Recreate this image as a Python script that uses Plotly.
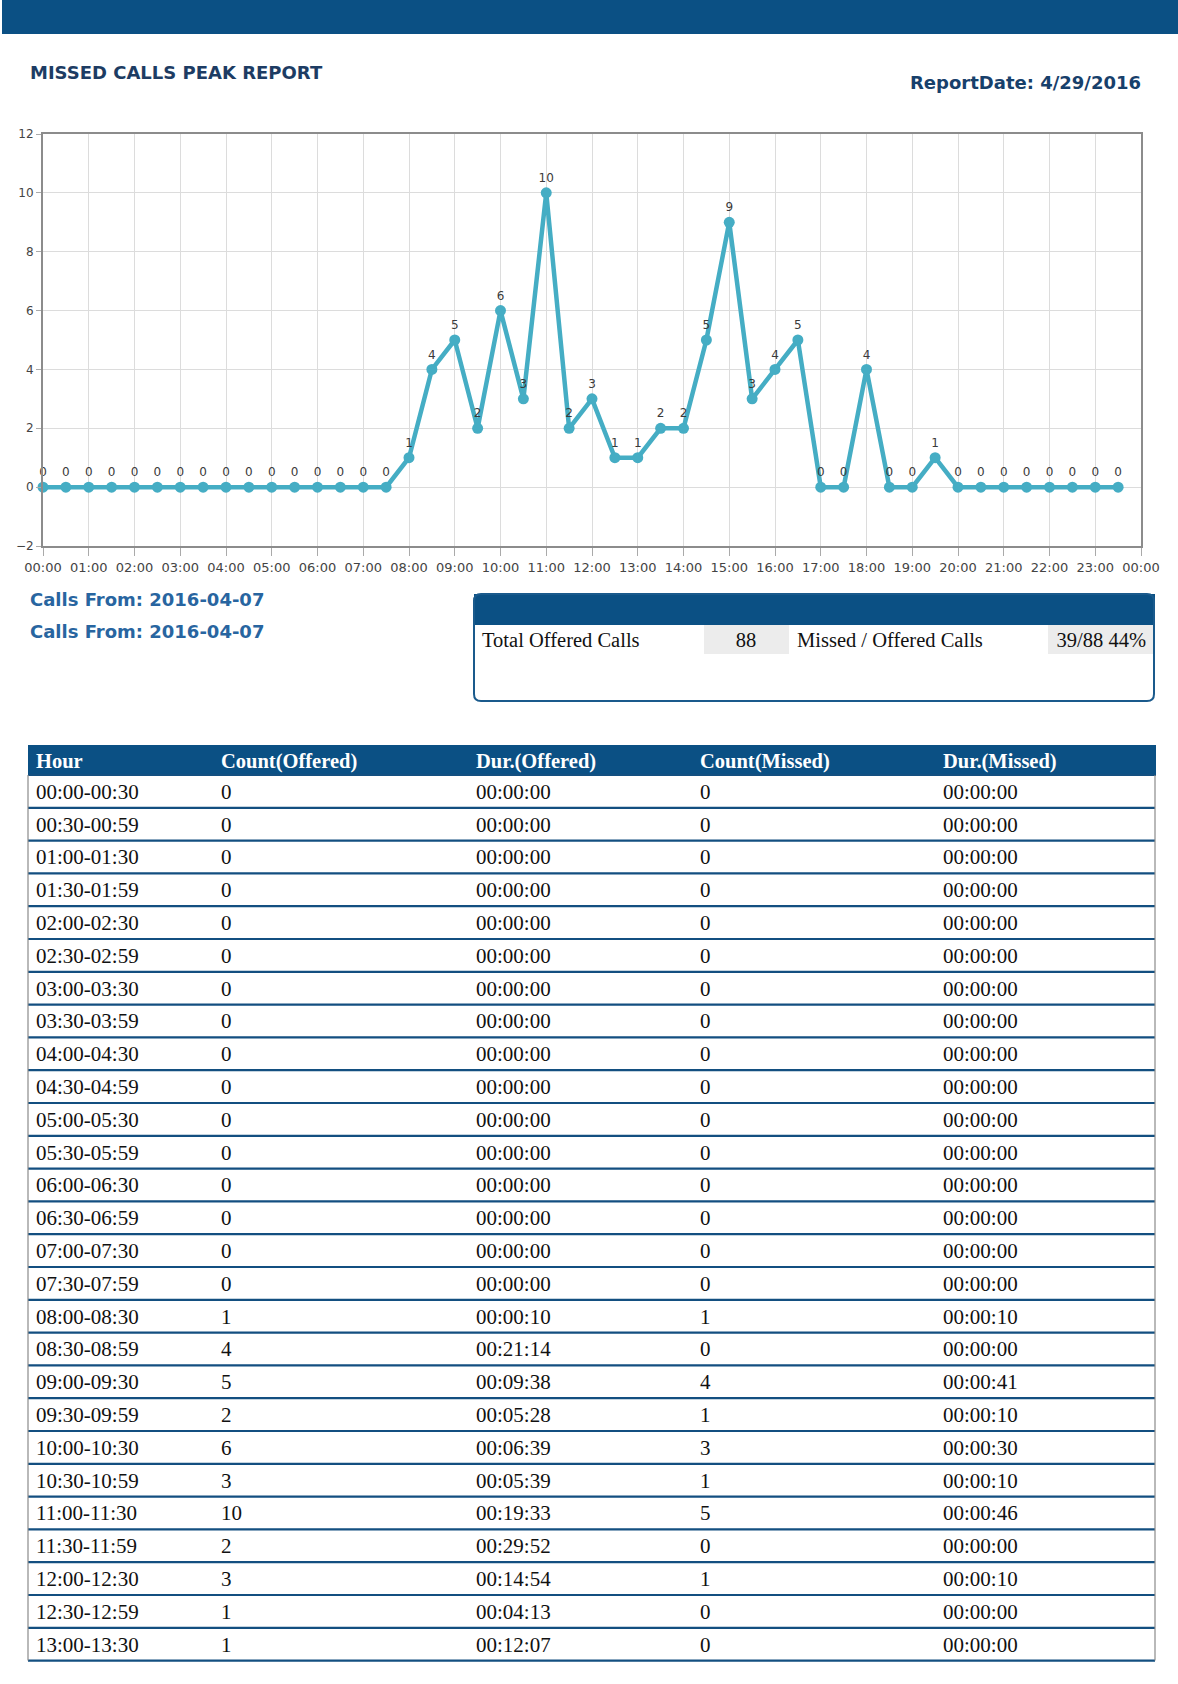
import plotly.graph_objects as go

W, H = 1178, 1684

# ---------------- data ----------------
report_title = "MISSED CALLS PEAK REPORT"
report_date = "4/29/2016"
calls_from = ["2016-04-07", "2016-04-07"]

slot_labels = ["00:00", "00:30", "01:00", "01:30", "02:00", "02:30", "03:00", "03:30",
               "04:00", "04:30", "05:00", "05:30", "06:00", "06:30", "07:00", "07:30",
               "08:00", "08:30", "09:00", "09:30", "10:00", "10:30", "11:00", "11:30",
               "12:00", "12:30", "13:00", "13:30", "14:00", "14:30", "15:00", "15:30",
               "16:00", "16:30", "17:00", "17:30", "18:00", "18:30", "19:00", "19:30",
               "20:00", "20:30", "21:00", "21:30", "22:00", "22:30", "23:00", "23:30"]
slot_counts = [0, 0, 0, 0, 0, 0, 0, 0,
               0, 0, 0, 0, 0, 0, 0, 0,
               1, 4, 5, 2, 6, 3, 10, 2,
               3, 1, 1, 2, 2, 5, 9, 3,
               4, 5, 0, 0, 4, 0, 0, 1,
               0, 0, 0, 0, 0, 0, 0, 0]

summary_labels = ["Total Offered Calls", "Missed / Offered Calls"]
summary_values = ["88", "39/88 44%"]

table_header = ["Hour", "Count(Offered)", "Dur.(Offered)", "Count(Missed)", "Dur.(Missed)"]
hour_ranges = ["00:00-00:30", "00:30-00:59", "01:00-01:30", "01:30-01:59", "02:00-02:30",
               "02:30-02:59", "03:00-03:30", "03:30-03:59", "04:00-04:30", "04:30-04:59",
               "05:00-05:30", "05:30-05:59", "06:00-06:30", "06:30-06:59", "07:00-07:30",
               "07:30-07:59", "08:00-08:30", "08:30-08:59", "09:00-09:30", "09:30-09:59",
               "10:00-10:30", "10:30-10:59", "11:00-11:30", "11:30-11:59", "12:00-12:30",
               "12:30-12:59", "13:00-13:30"]
count_offered = [0, 0, 0, 0, 0, 0, 0, 0, 0, 0, 0, 0, 0, 0, 0, 0,
                 1, 4, 5, 2, 6, 3, 10, 2, 3, 1, 1]
dur_offered = ["00:00:00", "00:00:00", "00:00:00", "00:00:00", "00:00:00", "00:00:00",
               "00:00:00", "00:00:00", "00:00:00", "00:00:00", "00:00:00", "00:00:00",
               "00:00:00", "00:00:00", "00:00:00", "00:00:00",
               "00:00:10", "00:21:14", "00:09:38", "00:05:28", "00:06:39", "00:05:39",
               "00:19:33", "00:29:52", "00:14:54", "00:04:13", "00:12:07"]
count_missed = [0, 0, 0, 0, 0, 0, 0, 0, 0, 0, 0, 0, 0, 0, 0, 0,
                1, 0, 4, 1, 3, 1, 5, 0, 1, 0, 0]
dur_missed = ["00:00:00", "00:00:00", "00:00:00", "00:00:00", "00:00:00", "00:00:00",
              "00:00:00", "00:00:00", "00:00:00", "00:00:00", "00:00:00", "00:00:00",
              "00:00:00", "00:00:00", "00:00:00", "00:00:00",
              "00:00:10", "00:00:00", "00:00:41", "00:00:10", "00:00:30", "00:00:10",
              "00:00:46", "00:00:00", "00:00:10", "00:00:00", "00:00:00"]

# ---------------- helpers ----------------
def px(v):
    return v / W

def py(v):
    return 1 - v / H

def nb(s):
    # non-breaking spaces so the table cell keeps its declared height
    return s.replace(" ", "\u00a0")

NAVY = "#0b5084"
LINE = "#45adc4"

day = calls_from[0]
next_day = "2016-04-08"
x_times = [f"{day} {s}" for s in slot_labels]

fig = go.Figure()

# ---------------- chart ----------------
fig.add_trace(go.Scatter(
    x=x_times, y=slot_counts, mode="lines+markers+text",
    text=[str(v) for v in slot_counts], textposition="top center",
    textfont=dict(size=12, color="#3a3a3a", family="DejaVu Sans"),
    line=dict(color=LINE, width=4.5), marker=dict(size=11, color=LINE),
    cliponaxis=False, showlegend=False, hoverinfo="x+y",
))

fig.update_xaxes(
    domain=[px(43), px(1141)], type="date",
    range=[f"{day} 00:00", f"{next_day} 00:00"],
    tick0=f"{day} 00:00", dtick=3600000, tickformat="%H:%M",
    showgrid=True, gridcolor="#dcdcdc", gridwidth=1,
    ticks="outside", ticklen=8, tickcolor="#aaaaaa",
    showline=True, mirror=True, linecolor="#8c8c8c", linewidth=2,
    tickfont=dict(size=13, color="#444444", family="DejaVu Sans"),
    anchor="y", zeroline=False, automargin=False,
)
fig.update_yaxes(
    domain=[py(546), py(134)], range=[-2, 12], dtick=2,
    showgrid=True, gridcolor="#dcdcdc", gridwidth=1,
    ticks="outside", ticklen=5, tickcolor="#aaaaaa",
    showline=True, mirror=True, linecolor="#8c8c8c", linewidth=2,
    tickfont=dict(size=12, color="#444444", family="DejaVu Sans"),
    zeroline=False, anchor="x", automargin=False,
)

# ---------------- summary table ----------------
fig.add_trace(go.Table(
    domain=dict(x=[px(474), px(1154)], y=[py(701), py(594)]),
    columnwidth=[229, 86, 258, 107],
    header=dict(values=["", "", "", ""], fill_color=NAVY, height=30,
                line=dict(color=NAVY, width=1)),
    cells=dict(values=[[nb(summary_labels[0])], [summary_values[0]],
                       [nb(summary_labels[1])], [nb(summary_values[1])]],
               fill_color=["white", "#ececec", "white", "#ececec"],
               align=["left", "center", "left", "right"],
               font=dict(size=20.5, color="#111111", family="Liberation Serif"),
               height=30, line=dict(color="white", width=1)),
))

# ---------------- main table ----------------
row_h = 32.8
head_h = 30
tbl_top, tbl_left, tbl_right = 745, 28, 1155
fig.add_trace(go.Table(
    domain=dict(x=[px(tbl_left), px(tbl_right)], y=[py(1668), py(tbl_top)]),
    columnwidth=[185, 255, 224, 243, 220],
    header=dict(values=table_header, fill_color=NAVY,
                align="left", height=head_h,
                font=dict(size=20.5, color="white", family="Liberation Serif", weight="bold"),
                line=dict(color=NAVY, width=1)),
    cells=dict(values=[hour_ranges, count_offered, dur_offered, count_missed, dur_missed],
               fill_color="white", align="left", height=row_h,
               font=dict(size=21, color="#111111", family="Liberation Serif"),
               line=dict(color="white", width=1)),
))

shapes = []
# top banner
shapes.append(dict(type="rect", xref="paper", yref="paper", x0=px(2), x1=1,
                   y0=py(34), y1=1, fillcolor=NAVY, line=dict(width=0), layer="below"))
# main table row separators
n_rows = len(hour_ranges)
for k in range(n_rows + 1):
    yy = tbl_top + head_h + k * row_h
    shapes.append(dict(type="line", xref="paper", yref="paper",
                       x0=px(tbl_left), x1=px(tbl_right), y0=py(yy), y1=py(yy),
                       line=dict(color="#134f80", width=2.2)))
# main table side borders
for xx in (tbl_left, tbl_right):
    shapes.append(dict(type="line", xref="paper", yref="paper",
                       x0=px(xx), x1=px(xx), y0=py(tbl_top + head_h),
                       y1=py(tbl_top + head_h + n_rows * row_h),
                       line=dict(color="#8a8a8a", width=1.2)))
# summary box rounded outline
x0, x1, y0, y1, r = 474, 1154, 594, 701, 7
path = (f"M {px(x0 + r)},{py(y0)} L {px(x1 - r)},{py(y0)} "
        f"Q {px(x1)},{py(y0)} {px(x1)},{py(y0 + r)} L {px(x1)},{py(y1 - r)} "
        f"Q {px(x1)},{py(y1)} {px(x1 - r)},{py(y1)} L {px(x0 + r)},{py(y1)} "
        f"Q {px(x0)},{py(y1)} {px(x0)},{py(y1 - r)} L {px(x0)},{py(y0 + r)} "
        f"Q {px(x0)},{py(y0)} {px(x0 + r)},{py(y0)} Z")
shapes.append(dict(type="path", xref="paper", yref="paper", path=path,
                   line=dict(color="#1a5a8c", width=2)))

annotations = [
    dict(text=f"<b>{report_title}</b>", x=px(28), y=py(73), xref="paper", yref="paper",
         xanchor="left", yanchor="middle", showarrow=False,
         font=dict(size=18, color="#1d3c63", family="DejaVu Sans")),
    dict(text=f"<b>ReportDate: {report_date}</b>", x=px(1143), y=py(82), xref="paper",
         yref="paper", xanchor="right", yanchor="middle", showarrow=False,
         font=dict(size=18, color="#17406b", family="DejaVu Sans")),
]
for i, d in enumerate(calls_from):
    annotations.append(dict(text=f"<b>Calls From: {d}</b>", x=px(28), y=py(599 + 32 * i),
                            xref="paper", yref="paper", xanchor="left", yanchor="middle",
                            showarrow=False,
                            font=dict(size=18, color="#2865a0", family="DejaVu Sans")))

fig.update_layout(
    width=W, height=H, margin=dict(l=0, r=0, t=0, b=0, autoexpand=False),
    paper_bgcolor="white", plot_bgcolor="white",
    shapes=shapes, annotations=annotations, showlegend=False,
)

fig.write_html("out.html", config={"displayModeBar": False},
               post_script="document.body.style.margin='0px';document.body.style.overflow='hidden';")
